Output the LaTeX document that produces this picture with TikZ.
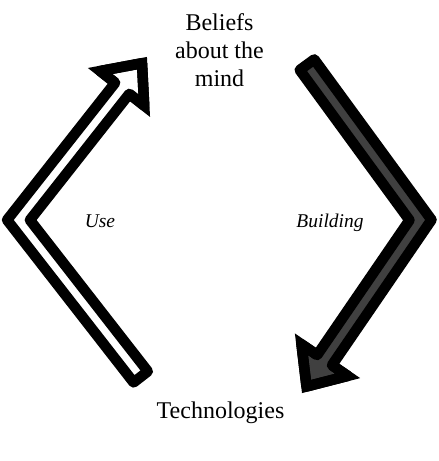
\documentclass[tikz,border=0pt]{standalone}
\usepackage{fontspec}
\setmainfont{Liberation Serif}
\usetikzlibrary{calc}

\newcommand{\bentarrow}[4]{%
  \coordinate (H) at ($(#3)!24pt!(#2)$);
  \coordinate (Ta) at ($(#1)!6.75pt!90:(#2)$);
  \coordinate (Tb) at ($(#1)!6.75pt!-90:(#2)$);
  \coordinate (Ba) at ($(#2)!6.75pt!-90:(#1)$);
  \coordinate (Bb) at ($(#2)!6.75pt!90:(#1)$);
  \coordinate (Ca) at ($(#2)!6.75pt!90:(H)$);
  \coordinate (Cb) at ($(#2)!6.75pt!-90:(H)$);
  \coordinate (Ha) at ($(H)!6.75pt!-90:(#2)$);
  \coordinate (Hb) at ($(H)!6.75pt!90:(#2)$);
  \coordinate (Wa) at ($(H)!21pt!-90:(#2)$);
  \coordinate (Wb) at ($(H)!21pt!90:(#2)$);
  \draw[flexarrow,line join=round,fill=#4] (Ta) -- (intersection of Ta--Ba and Ca--Ha) -- (Ha) -- (Wa)
    -- (#3) -- (Wb) -- (Hb) -- (intersection of Tb--Bb and Cb--Hb) -- (Tb) -- cycle;
  \draw[flexarrow] (Ha) -- (Wa) -- (#3) -- (Wb) -- (Hb);
}

\begin{document}
\begin{tikzpicture}[x=0.75pt,y=-0.75pt,
  flexarrow/.style={draw=black,line width=7.875pt,line join=miter},
  maintext/.style={font=\fontsize{18}{21}\selectfont,inner sep=0pt,align=center},
  sidetext/.style={font=\fontsize{14.6}{17}\selectfont\itshape,inner sep=0pt,anchor=base}]
\useasboundingbox (0,0) rectangle (439,461);

\node[maintext] (mind) at (219.5,50) {Beliefs\\about the\\mind};
\node[maintext,anchor=base] (tech) at (220.5,418) {Technologies};

\coordinate (useTail) at (140.7,376.9);
\coordinate (useBend) at (18.5,220);
\coordinate (useTip) at (142,63.2);
\coordinate (buildTail) at (307,64.7);
\coordinate (buildBend) at (420.5,220);
\coordinate (buildTip) at (306.5,386.5);

\bentarrow{useTail}{useBend}{useTip}{white}
\bentarrow{buildTail}{buildBend}{buildTip}{black!75}

\node[sidetext] (use) at (100,227) {Use};
\node[sidetext] (build) at (330,227) {Building};

\end{tikzpicture}
\end{document}
